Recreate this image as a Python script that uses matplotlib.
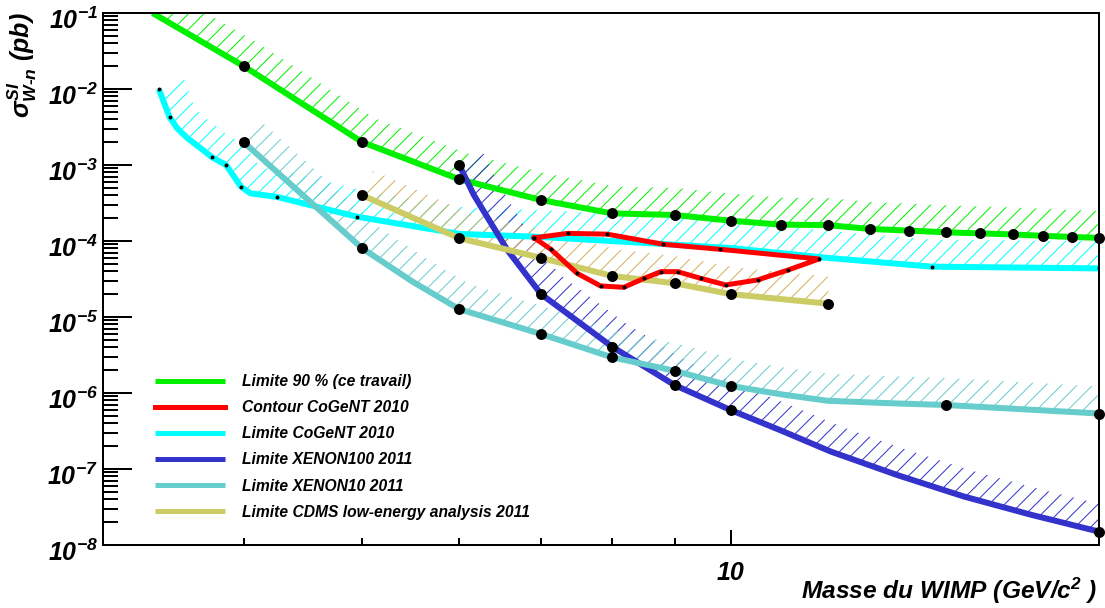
import numpy as np
import matplotlib
matplotlib.use("Agg")
import matplotlib.pyplot as plt
import matplotlib.transforms as mtransforms
from matplotlib.ticker import LogLocator, NullFormatter, FuncFormatter

DPI = 140
PX = 72.0 / DPI  # one pixel in points

green_mass = [3.37, 4, 5, 6, 7, 8, 9, 10, 11, 12, 13, 14, 15, 16, 17, 18, 19, 20]
green_sigma = [1.0e-1, 2.0e-2, 2.0e-3, 6.5e-4, 3.46e-4, 2.31e-4, 2.2e-4, 1.85e-4, 1.64e-4,
               1.62e-4, 1.44e-4, 1.37e-4, 1.30e-4, 1.26e-4, 1.22e-4, 1.17e-4, 1.13e-4, 1.10e-4]

red_mass = [6.91, 7.36, 7.93, 8.81, 9.80, 11.81, 11.14, 10.52, 9.91, 9.45, 9.05, 8.77,
            8.50, 8.18, 7.83, 7.49, 7.13, 6.91]
red_sigma = [1.10e-4, 1.26e-4, 1.23e-4, 9.05e-5, 7.78e-5, 5.8e-5, 4.15e-5, 3.07e-5, 2.64e-5,
             3.23e-5, 3.95e-5, 3.95e-5, 3.23e-5, 2.46e-5, 2.56e-5, 3.76e-5, 7.78e-5, 1.10e-4]

cyan_mass = [3.41, 3.48, 3.53, 3.60, 3.69, 3.77, 3.87, 3.92, 3.98, 4.05, 4.26, 4.95, 6.0, 7.0,
             10, 12, 14.6, 20]
cyan_sigma = [1.0e-2, 4.25e-3, 3.04e-3, 2.24e-3, 1.66e-3, 1.26e-3, 1.0e-3, 7.4e-4, 5.2e-4,
              4.25e-4, 3.8e-4, 2.09e-4, 1.24e-4, 1.13e-4, 8.1e-5, 6.0e-5, 4.6e-5, 4.36e-5]
cyan_dots = [3.41, 3.48, 3.77, 3.87, 3.98, 4.26, 4.95, 14.6, 20]

xe100_mass = [6, 6.17, 6.57, 7, 8, 9, 10, 11, 12.07, 13.69, 15.5, 17.6, 20]
xe100_sigma = [1.0e-3, 4.0e-4, 7.6e-5, 2.0e-5, 4.07e-6, 1.27e-6, 5.97e-7, 3.2e-7, 1.70e-7,
               8.3e-8, 4.36e-8, 2.5e-8, 1.5e-8]
xe100_dots = [6, 7, 8, 9, 10, 20]

xe10_mass = [4, 5, 5.5, 6, 7, 8, 9, 10, 11, 12, 13.6, 15, 20]
xe10_sigma = [2.0e-3, 8.0e-5, 2.9e-5, 1.27e-5, 5.97e-6, 2.95e-6, 1.96e-6, 1.24e-6, 9.6e-7,
              7.9e-7, 7.3e-7, 6.95e-7, 5.37e-7]
xe10_dots = [4, 5, 6, 7, 8, 9, 10, 15, 20]

cdms_mass = [5, 6, 7, 8, 9, 10, 12]
cdms_sigma = [4.0e-4, 1.09e-4, 6.0e-5, 3.47e-5, 2.78e-5, 2.0e-5, 1.5e-5]

labels = ["Limite 90 % (ce travail)", "Contour CoGeNT 2010", "Limite CoGeNT 2010",
          "Limite XENON100 2011", "Limite XENON10 2011", "Limite CDMS low-energy analysis 2011"]
colors = ["#00f000", "#ff0000", "#00ffff", "#3333cc", "#66cccc", "#cccc66"]

plt.rcParams["font.family"] = "Liberation Sans"
plt.rcParams["mathtext.fontset"] = "custom"
for k in ("rm", "it", "bf", "sf"):
    plt.rcParams["mathtext." + k] = "Liberation Sans:bold:italic"
plt.rcParams["hatch.linewidth"] = 1.0 * PX

fig = plt.figure(figsize=(1105 / DPI, 608 / DPI), dpi=DPI)
ax = fig.add_axes([103 / 1105, 63 / 608, 996 / 1105, 532 / 608])
ax.set_xscale("log")
ax.set_yscale("log")
ax.set_xlim(3.07, 20)
ax.set_ylim(1e-8, 1e-1)


def hatch_band(mass, sigma, color, width=27):
    # hatched strip on the excluded side of a limit curve, width in pixels
    pts = ax.transData.transform(np.column_stack([mass, sigma]))
    d = np.gradient(pts, axis=0)
    d /= np.hypot(d[:, 0], d[:, 1])[:, None]
    normal = np.column_stack([-d[:, 1], d[:, 0]])
    top = pts + width * normal
    poly = ax.transData.inverted().transform(np.vstack([pts, top[::-1]]))
    ax.fill(poly[:, 0], poly[:, 1], facecolor="none", edgecolor=color,
            hatch="///", linewidth=0, zorder=1)


hatch_band(green_mass, green_sigma, colors[0])
hatch_band(cyan_mass, cyan_sigma, colors[2])
hatch_band(xe100_mass, xe100_sigma, colors[3])
hatch_band(xe10_mass, xe10_sigma, colors[4])
hatch_band(cdms_mass, cdms_sigma, "#d4b060")

lw = 6 * PX
h_green, = ax.plot(green_mass, green_sigma, color=colors[0], lw=lw, zorder=2.0, solid_capstyle="butt")
h_red, = ax.plot(red_mass, red_sigma, color=colors[1], lw=5 * PX, zorder=2.5, solid_joinstyle="round")
h_cyan, = ax.plot(cyan_mass, cyan_sigma, color=colors[2], lw=lw, zorder=2.1, solid_capstyle="butt")
h_xe100, = ax.plot(xe100_mass, xe100_sigma, color=colors[3], lw=lw, zorder=2.2, solid_capstyle="butt")
h_xe10, = ax.plot(xe10_mass, xe10_sigma, color=colors[4], lw=lw, zorder=2.3, solid_capstyle="butt")
h_cdms, = ax.plot(cdms_mass, cdms_sigma, color=colors[5], lw=lw, zorder=2.4, solid_capstyle="butt")

# black points
dot = dict(ls="none", marker="o", color="black", ms=9 * PX, zorder=5, clip_on=False)
ax.plot(green_mass[1:], green_sigma[1:], **dot)
ax.plot(xe100_dots, [xe100_sigma[xe100_mass.index(m)] for m in xe100_dots], **dot)
ax.plot(xe10_dots, [xe10_sigma[xe10_mass.index(m)] for m in xe10_dots], **dot)
ax.plot(cdms_mass, cdms_sigma, **dot)
tiny = dict(ls="none", marker="o", color="black", ms=2 * PX, zorder=5)
ax.plot(cyan_dots, [cyan_sigma[cyan_mass.index(m)] for m in cyan_dots], **tiny)
ax.plot(red_mass, red_sigma, **tiny)

# axes in ROOT style
ax.set_yticks([10.0 ** e for e in range(-8, 0)])
ax.yaxis.set_major_formatter(FuncFormatter(lambda v, p: r"$10^{%d}$" % round(np.log10(v))))
ax.yaxis.set_minor_locator(LogLocator(base=10, subs=np.arange(2, 10), numticks=30))
ax.yaxis.set_minor_formatter(NullFormatter())
ax.set_xticks([10])
ax.set_xticklabels(["10"])
ax.xaxis.set_minor_locator(LogLocator(base=10, subs=np.arange(2, 10), numticks=30))
ax.xaxis.set_minor_formatter(NullFormatter())

ax.tick_params(which="both", direction="in", top=False, right=False, color="black")
ax.tick_params(axis="y", which="major", length=29 * PX, width=2 * PX, pad=5 * PX, labelsize=25 * PX)
ax.tick_params(axis="y", which="minor", length=15 * PX, width=2 * PX)
ax.tick_params(axis="x", which="major", length=15 * PX, width=2 * PX, pad=16 * PX, labelsize=25 * PX)
ax.tick_params(axis="x", which="minor", length=7 * PX, width=2 * PX)
for lab in ax.get_xticklabels():
    lab.set_fontweight("bold")
    lab.set_fontstyle("italic")
shift = mtransforms.ScaledTranslation(0, -5 / DPI, fig.dpi_scale_trans)
for lab in ax.get_yticklabels():
    lab.set_transform(lab.get_transform() + shift)
for sp in ax.spines.values():
    sp.set_linewidth(2 * PX)

fig.text(22 / 1105, 1 - 12 / 608, r"$\sigma^{SI}_{W\text{-}n}$ (pb)", rotation=90,
         ha="center", va="top", fontsize=25 * PX, fontweight="bold", fontstyle="italic")
fig.text(1097 / 1105, 1 - 591 / 608, r"Masse du WIMP (GeV/c$^{2}$ )", ha="right", va="center",
         fontsize=24.5 * PX, fontweight="bold", fontstyle="italic")

leg = ax.legend([h_green, h_red, h_cyan, h_xe100, h_xe10, h_cdms], labels,
                loc="upper left", bbox_to_anchor=(155 / 1105, 1 - 374 / 608),
                bbox_transform=fig.transFigure, frameon=False, borderpad=0, borderaxespad=0,
                handlelength=4.46, handletextpad=1.06, labelspacing=0.71,
                prop=dict(family="Liberation Sans", weight="bold", style="italic", size=15.7 * PX))
for line in leg.get_lines():
    line.set_linewidth(5 * PX)

fig.savefig("out.png", dpi=DPI)
